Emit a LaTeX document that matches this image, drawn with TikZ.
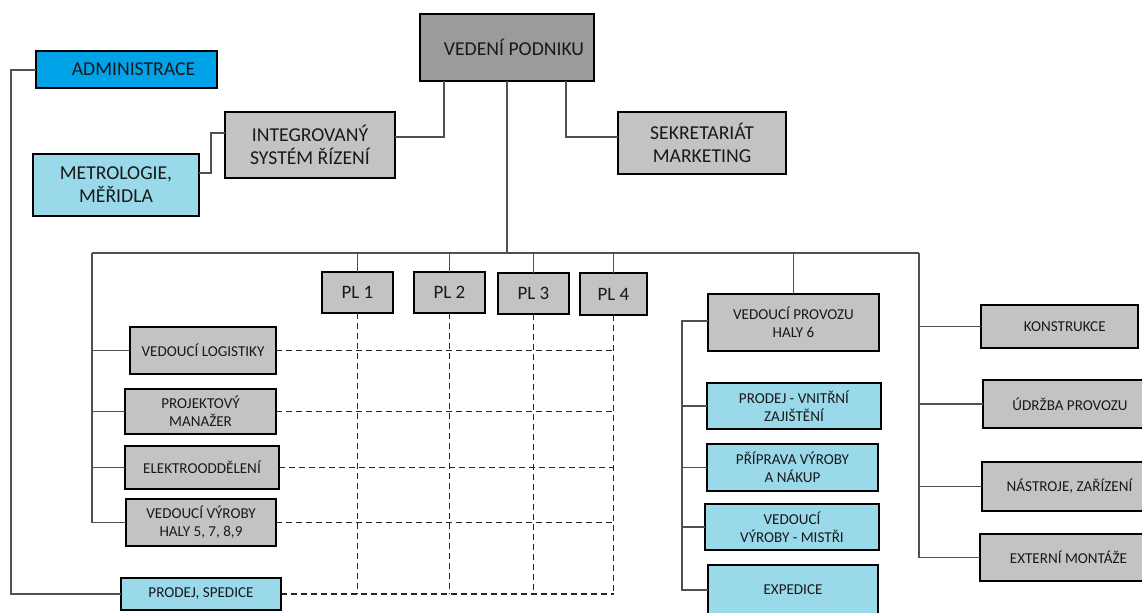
\documentclass[tikz,border=0pt]{standalone}
\usepackage{fontspec}
\setmainfont{Carlito}
\definecolor{boxgray}{HTML}{C3C3C3}
\definecolor{topgray}{HTML}{9B9B9B}
\definecolor{lblue}{HTML}{99D9EA}
\definecolor{dblue}{HTML}{00A2E8}
\definecolor{linegray}{HTML}{505050}
\tikzset{
  box/.style={draw=black, line width=1.6pt, inner sep=0pt, outer sep=0pt, align=center, text=black!90},
  big/.style={font=\fontsize{11.2}{13.2}\selectfont},
  plfont/.style={font=\fontsize{10.8}{13}\selectfont},
  small/.style={font=\fontsize{8.6}{10.4}\selectfont},
  gbox/.style={box, fill=boxgray},
  bbox/.style={box, fill=lblue},
  conn/.style={draw=linegray, line width=0.6pt},
  dashconn/.style={draw=black!85, line width=0.6pt, dash pattern=on 3.4pt off 2.3pt},
}
% \orgbox{name}{style}{x1}{y1}{x2}{y2}{text}
\newcommand\orgbox[7]{%
  \node[#2, minimum width={(#5-#3)*0.02cm}, minimum height={(#6-#4)*0.02cm}]
    (#1) at ({(#3+#5)/2},{(#4+#6)/2}) {#7};}
\begin{document}
\begin{tikzpicture}[x=0.02cm, y=-0.02cm]
\clip (0,0) rectangle (1142,612);
\fill[white] (0,0) rectangle (1142,612);
% top level
\orgbox{vp}{box, big, fill=topgray}{420}{14}{594}{81}{\hspace*{8pt}VEDENÍ PODNIKU}
\orgbox{adm}{box, big, fill=dblue}{36}{51}{217}{88}{\hspace*{8pt}ADMINISTRACE}
\orgbox{isr}{gbox, big}{225}{112}{395}{178}{INTEGROVANÝ\\SYSTÉM ŘÍZENÍ}
\orgbox{met}{bbox, big}{33}{154}{199}{216}{METROLOGIE,\\MĚŘIDLA}
\orgbox{sek}{gbox, big}{618}{112}{786}{174}{SEKRETARIÁT\\MARKETING}
% PL boxes
\orgbox{pl1}{gbox, plfont}{322}{272}{393}{313}{PL 1}
\orgbox{pl2}{gbox, plfont}{414}{272}{485}{313}{PL 2}
\orgbox{pl3}{gbox, plfont}{498}{273}{569}{314}{PL 3}
\orgbox{pl4}{gbox, plfont}{580}{273}{647}{315}{PL 4}
% left column
\orgbox{log}{gbox, small}{130}{327}{276}{374}{VEDOUCÍ LOGISTIKY}
\orgbox{proj}{gbox, small}{125}{389}{276}{434}{PROJEKTOVÝ\\MANAŽER}
\orgbox{ele}{gbox, small}{125}{446}{279}{489}{ELEKTROODDĚLENÍ}
\orgbox{vyr}{gbox, small}{126}{499}{276}{546}{VEDOUCÍ VÝROBY\\HALY 5, 7, 8,9}
\orgbox{spe}{bbox, small}{121}{578}{281}{610}{PRODEJ, SPEDICE}
% middle column
\orgbox{vpr}{gbox, small}{708}{294}{879}{351}{VEDOUCÍ PROVOZU\\HALY 6}
\orgbox{pvz}{bbox, small}{707}{383}{881}{429}{PRODEJ - VNITŘNÍ\\ZAJIŠTĚNÍ}
\orgbox{ppv}{bbox, small}{707}{444}{878}{491}{PŘÍPRAVA VÝROBY\\A NÁKUP}
\orgbox{mis}{bbox, small}{705}{504}{879}{550}{VEDOUCÍ\\VÝROBY - MISTŘI}
\orgbox{exp}{bbox, small}{708}{565}{878}{615}{EXPEDICE}
% right column
\orgbox{kon}{gbox, small}{981}{305}{1138}{348}{\hspace*{6pt}KONSTRUKCE}
\orgbox{udr}{gbox, small}{983}{380}{1157}{428}{ÚDRŽBA PROVOZU}
\orgbox{nas}{gbox, small}{982}{462}{1157}{511}{NÁSTROJE, ZAŘÍZENÍ}
\orgbox{ext}{gbox, small}{980}{534}{1157}{581}{EXTERNÍ MONTÁŽE}
% helper coordinates
\coordinate (k1) at (444,137);
\coordinate (k2) at (566,137);
\coordinate (m1) at (211,133);
\coordinate (m2) at (211,173);
\coordinate (a0) at (11,70);
\coordinate (busL) at (92,253);
\coordinate (busR) at (919,253);
\coordinate (c6) at (682,321);
% top connectors
\draw[conn] (vp.south -| k1) -- (k1) -- (isr.east |- k1);
\draw[conn] (vp.south -| k2) -- (k2) -- (sek.west |- k2);
\draw[conn] (vp.south) -- (vp.south |- busL);
\draw[conn] (isr.west |- m1) -- (m1) -- (m2) -- (met.east |- m2);
\draw[conn] (adm.west |- a0) -- (a0) -- (a0 |- spe.west) -- (spe.west);
% bus
\draw[conn] (busL) -- (busR);
\foreach \p in {pl1,pl2,pl3,pl4}{
  \draw[conn] (\p.north |- busL) -- (\p.north);
}
\draw[conn] (vpr.north |- busL) -- (vpr.north);
% left branches
\draw[conn] (busL) |- (vyr.west);
\foreach \b in {log,proj,ele}{
  \draw[conn] (\b.west -| busL) -- (\b.west);
}
% right branches
\draw[conn] (busR) |- (ext.west);
\foreach \b in {kon,udr,nas}{
  \draw[conn] (\b.west -| busR) -- (\b.west);
}
% hall 6 branches
\draw[conn] (vpr.west |- c6) -- (c6) -- (c6 |- exp.west) -- (exp.west);
\foreach \b in {pvz,ppv,mis}{
  \draw[conn] (\b.west -| c6) -- (\b.west);
}
% dashed matrix
\foreach \b in {log,proj,ele,vyr,spe}{
  \draw[dashconn] (\b.east) -- (\b.east -| pl4.south);
}
\foreach \p in {pl1,pl2,pl3,pl4}{
  \draw[dashconn] (\p.south) -- (\p.south |- spe.east);
}
\end{tikzpicture}
\end{document}
